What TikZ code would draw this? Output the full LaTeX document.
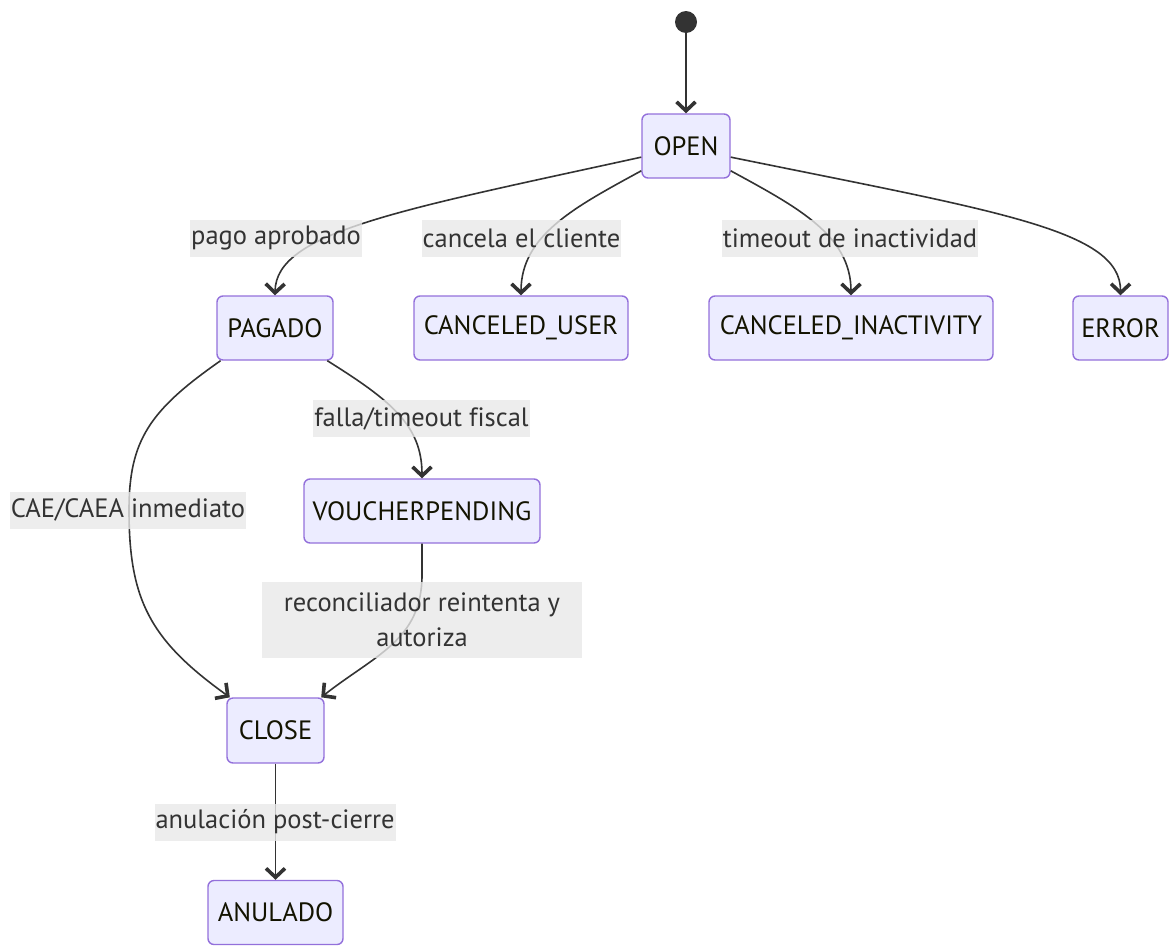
\documentclass[tikz,border=0pt]{standalone}
\usepackage{fontspec}
\setmainfont{PT Sans}[Ligatures=NoCommon]
\usetikzlibrary{arrows.meta}
\definecolor{nodefill}{HTML}{ECECFF}
\definecolor{nodeline}{HTML}{9370DB}
\definecolor{edgecol}{HTML}{333333}
\definecolor{lblbg}{HTML}{E8E8E8}
\definecolor{nodetext}{HTML}{131300}

\begin{document}
\begin{tikzpicture}[x=1pt,y=-1pt,
  state/.style={draw=nodeline, fill=nodefill, line width=1.4pt, rounded corners=6pt,
    minimum height=64pt, inner sep=0pt, text=nodetext,
    font=\fontsize{26.5}{30}\selectfont},
  lbl/.style={fill=lblbg, fill opacity=0.8, text opacity=1, text=edgecol,
    inner xsep=1pt, inner ysep=0pt, minimum height=37pt,
    font=\fontsize{26.5}{35}\selectfont},
  tr/.style={draw=edgecol, line width=1.6pt,
    -{Straight Barb[length=9pt,width=19pt,line width=3.6pt]}}
]
\useasboundingbox (0,0) rectangle (1169,945);

% states
\node[circle, fill=edgecol, minimum size=22pt, inner sep=0pt] (start) at (686,22) {};
\node[state, minimum width=88pt]  (OPEN)   at (686,146) {OPEN};
\node[state, minimum width=116pt] (PAGADO) at (275,328) {PAGADO};
\node[state, minimum width=214pt] (CU)     at (521,328) {CANCELED\_USER};
\node[state, minimum width=284pt] (CI)     at (851,328) {CANCELED\_INACTIVITY};
\node[state, minimum width=95pt]  (ERROR)  at (1120.5,328) {ERROR};
\node[state, minimum width=236pt] (VP)     at (422,511) {VOUCHERPENDING};
\node[state, minimum width=97pt, minimum height=65pt] (CLOSE) at (275.5,730.5) {CLOSE};
\node[state, minimum width=135pt] (ANULADO) at (275.5,912.5) {ANULADO};

% transitions
\draw[tr] (start) -- (OPEN.north);
\draw[tr] (OPEN.194) .. controls (400,210) and (276,232) .. (PAGADO.north);
\draw[tr] (OPEN.209) .. controls (575,207) and (521,235) .. (CU.north);
\draw[tr] (OPEN.331) .. controls (797,207) and (851,235) .. (CI.north);
\draw[tr] (OPEN.346) .. controls (1000,212) and (1121,230) .. (ERROR.north);
\draw[tr] (PAGADO.211.6) .. controls (150,410) and (129,440) .. (129,510)
          .. controls (129,600) and (150,640) .. (CLOSE.144.2);
\draw[tr] (PAGADO.328.4) .. controls (390,400) and (422,425) .. (VP.north);
\draw[tr] (VP.south) -- (422,575) .. controls (422,640) and (375,655) .. (CLOSE.36.1);
\draw[tr] (CLOSE.south) -- (ANULADO.north);

% transition labels
\node[lbl] (l1) at (276,238.5) {pago aprobado};
\node[lbl] (l2) at (521.5,238.5) {cancela el cliente};
\node[lbl] (l3) at (850,238.5) {timeout de inactividad};
\node[lbl] (l4) at (421.5,418.5) {falla/timeout fiscal};
\node[lbl] (l5) at (128,510) {CAE/CAEA inmediato};
\node[lbl, align=center, minimum width=320pt, minimum height=76pt] (l6) at (422,620)
  {reconciliador reintenta y\\autoriza};
\node[lbl] (l7) at (275,822) {anulación post-cierre};
\end{tikzpicture}
\end{document}
